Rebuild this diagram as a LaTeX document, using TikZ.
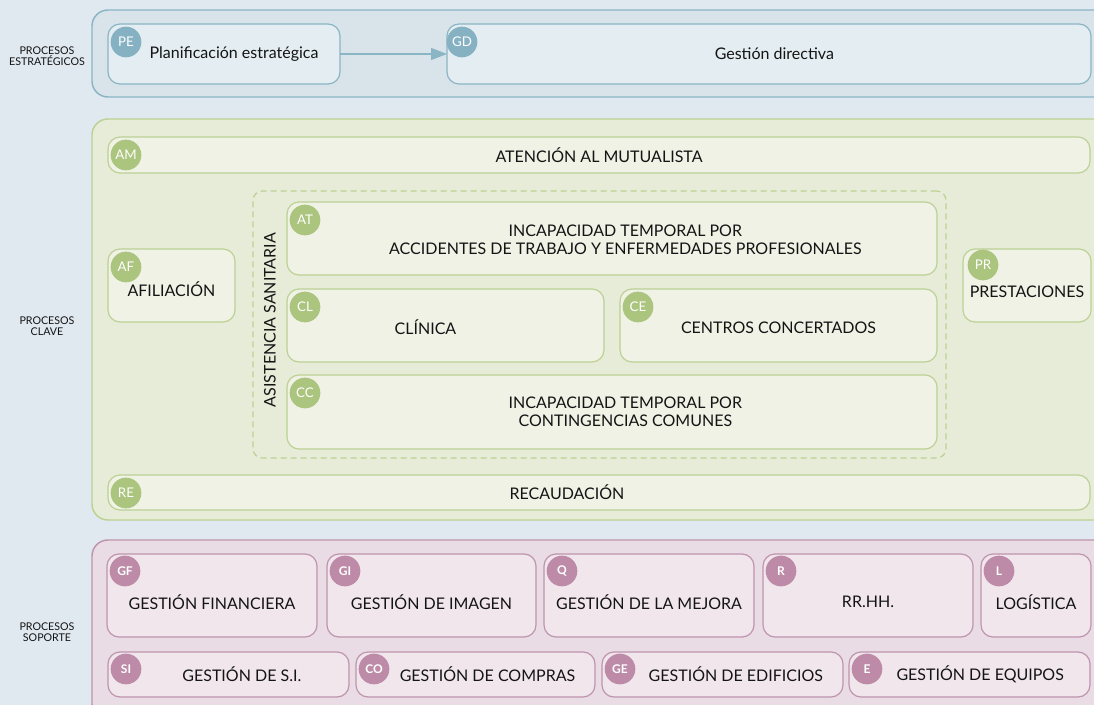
\documentclass[tikz,border=0pt]{standalone}
\usepackage{fontspec}
\setmainfont{Lato}
\usepackage{tikz}
\usetikzlibrary{calc}
\usetikzlibrary{arrows.meta}
\definecolor{fondo}{RGB}{225,233,240}
\definecolor{texto}{RGB}{20,20,20}
\definecolor{estfill}{RGB}{216,228,233}
\definecolor{estin}{RGB}{228,237,241}
\definecolor{estline}{RGB}{138,181,197}
\definecolor{estbadge}{RGB}{134,177,194}
\definecolor{clafill}{RGB}{230,236,216}
\definecolor{clain}{RGB}{239,242,229}
\definecolor{claline}{RGB}{188,209,148}
\definecolor{clabadge}{RGB}{171,196,126}
\definecolor{sopfill}{RGB}{233,220,228}
\definecolor{sopin}{RGB}{240,230,236}
\definecolor{sopline}{RGB}{190,148,174}
\definecolor{sopbadge}{RGB}{189,139,168}
\tikzset{dim/.style 2 args = {minimum width=#1*0.75pt, minimum height=#2*0.75pt}}
\tikzset{caja/.style = {shape=rectangle, draw, rounded corners=9pt, line width=0.9pt,
inner sep=0pt, outer sep=0pt, text=texto, align=center, font=\fontsize{12}{13.5}\selectfont}}
\tikzset{marco/.style = {caja, rounded corners=12pt, line width=1.1pt}}
\tikzset{badge/.style = {shape=circle, minimum size=23pt, inner sep=0pt, text=white,
font=\fontsize{10}{10}\selectfont}}
\tikzset{grupo/.style = {text=texto, align=center, font=\fontsize{8}{8.5}\selectfont}}
\tikzset{est/.style = {caja, fill=estin, draw=estline}}
\tikzset{cla/.style = {caja, fill=clain, draw=claline}}
\tikzset{sop/.style = {caja, fill=sopin, draw=sopline}}
\tikzset{lbl/.style = {text=texto, align=center, font=\fontsize{12}{13.5}\selectfont}}

\begin{document}
\begin{tikzpicture}[x=0.75pt, y=-0.75pt]
                \clip (0,0) rectangle (1094,705);
                \fill[fondo] (0,0) rectangle (1094,705);

                \node[grupo] (gest) at (47,56) {PROCESOS\\ESTRATÉGICOS};
                \node[grupo] (gcla) at (47,326) {PROCESOS\\CLAVE};
                \node[grupo] (gsop) at (47,632) {PROCESOS\\SOPORTE};

                \node[marco, fill=estfill, draw=estline, dim={1018}{87}] (EST) at (601,53.5) {};
                \node[marco, fill=clafill, draw=claline, dim={1018}{401}] (CLA) at (601,319.5) {};
                \node[marco, fill=sopfill, draw=sopline, dim={1018}{180}] (SOP) at (601,630) {};

                \node[est, dim={232}{60}, label={[lbl, xshift=7.5pt]center:Planificación estratégica}] (PE) at (224,54) {};
                \node[est, dim={644}{60}, label={[lbl, xshift=4pt]center:Gestión directiva}] (GD) at (769,54) {};
                \draw[estline, line width=0.9pt, -{Triangle[length=12pt, width=9pt]}] (PE) -- (GD);

                \node[cla, dim={982}{36}] (AM) at (599,155) {ATENCIÓN AL MUTUALISTA};
                \node[caja, draw=claline, dashed, dash pattern=on 4.5pt off 3pt, rounded corners=7pt,
                    dim={693}{267}] (AS) at (599.5,324.5) {};
                \node[lbl, rotate=90] (ASt) at (270,320) {ASISTENCIA SANITARIA};
                \node[cla, dim={650}{73}, label={[lbl, xshift=10pt, yshift=-1pt]center:INCAPACIDAD TEMPORAL POR\\ACCIDENTES DE TRABAJO Y ENFERMEDADES PROFESIONALES}] (AT) at (612,238.5) {};
                \node[cla, dim={317}{73}, label={[lbl, xshift=-15pt, yshift=-1pt]center:CLÍNICA}] (CL) at (445.5,325.5) {};
                \node[cla, dim={317}{73}, label={[lbl, yshift=-2pt]center:CENTROS CONCERTADOS}] (CE) at (778.5,325.5) {};
                \node[cla, dim={650}{74}, label={[lbl, xshift=10pt]center:INCAPACIDAD TEMPORAL POR\\CONTINGENCIAS COMUNES}] (CC) at (612,412) {};
                \node[cla, dim={127}{73}, label={[lbl, yshift=-3pt]center:AFILIACIÓN}] (AF) at (171.5,285.5) {};
                \node[cla, dim={128}{73}, label={[lbl, yshift=-5pt]center:PRESTACIONES}] (PR) at (1027,285.5) {};
                \node[cla, dim={982}{35}, label={[lbl, xshift=-24pt]center:RECAUDACIÓN}] (RE) at (599,492.5) {};

                \node[sop, dim={210}{83}, label={[lbl, yshift=-5pt]center:GESTIÓN FINANCIERA}] (GF) at (212,595.5) {};
                \node[sop, dim={209}{83}, label={[lbl, yshift=-5pt]center:GESTIÓN DE IMAGEN}] (GI) at (431.5,595.5) {};
                \node[sop, dim={210}{83}, label={[lbl, yshift=-5pt]center:GESTIÓN DE LA MEJORA}] (Q) at (649,595.5) {};
                \node[sop, dim={210}{83}, label={[lbl, yshift=-5pt]center:RR.HH.}] (R) at (868,595.5) {};
                \node[sop, dim={110}{83}, label={[lbl, yshift=-5pt]center:LOGÍSTICA}] (L) at (1036,595.5) {};
                \node[sop, dim={241}{45}, label={[lbl, xshift=10pt]center:GESTIÓN DE S.I.}] (SI) at (228.5,674.5) {};
                \node[sop, dim={239}{45}, label={[lbl, xshift=9pt]center:GESTIÓN DE COMPRAS}] (CO) at (475.5,674.5) {};
                \node[sop, dim={241}{45}, label={[lbl, xshift=10pt]center:GESTIÓN DE EDIFICIOS}] (GE) at (722.5,674.5) {};
                \node[sop, dim={241}{45}, label={[lbl, xshift=8pt]center:GESTIÓN DE EQUIPOS}] (E) at (969.5,674.5) {};

                \node[badge, fill=estbadge] (bPE) at ($(PE.north west)+(18,18)$) {PE};
                \node[badge, fill=estbadge] (bGD) at ($(GD.north west)+(15,18)$) {GD};
                \foreach \b in {AM,AT,CL,CE,CC,AF,RE}
                    \node[badge, fill=clabadge] (b\b) at ($(\b.north west)+(18,18)$) {\b};
                \node[badge, fill=clabadge] (bPR) at ($(PR.north west)+(20,16)$) {PR};
                \foreach \b in {GF,GI,Q,R,L,SI,CO,GE,E}
                    \node[badge, fill=sopbadge, font=\fontsize{9}{9}\bfseries\selectfont] (b\b) at ($(\b.north west)+(18,17)$) {\b};
            \end{tikzpicture}
\end{document}
